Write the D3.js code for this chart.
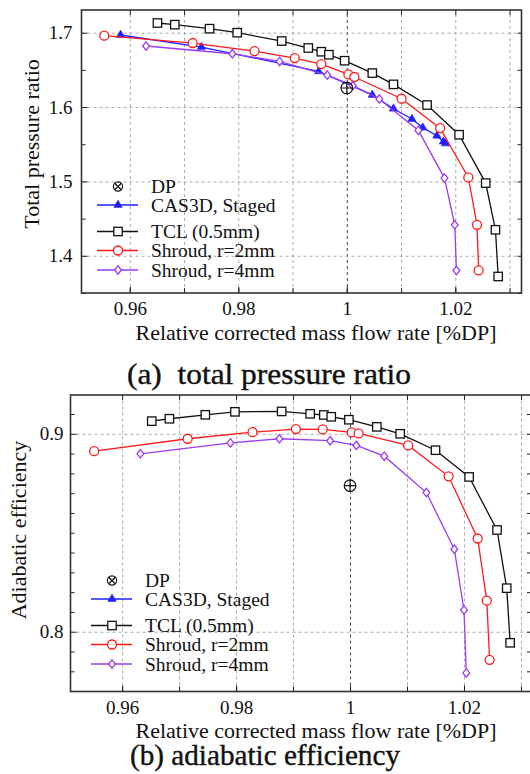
<!DOCTYPE html>
<html>
<head>
<meta charset="utf-8">
<script src="https://cdn.jsdelivr.net/npm/d3@7"></script>
<style>
  body { margin: 0; background: #fff; }
</style>
</head>
<body>
<div id="chart"></div>
<script>
// ---- data ----
const flowTicks = [0.96, 0.98, 1, 1.02];
const flowGrid = [0.96, 0.97, 0.98, 0.99, 1, 1.01, 1.02, 1.03];
const prTicks = [1.4, 1.5, 1.6, 1.7];
const prMinor = [1.35, 1.45, 1.55, 1.65];
const effTicks = [0.8, 0.9];
const effMinor = [0.78, 0.79, 0.81, 0.82, 0.83, 0.84, 0.85, 0.86, 0.87, 0.88, 0.89, 0.91];

// (a) total pressure ratio  [flow, PR]
const cas3dPR = [[0.9583, 1.6969], [0.9732, 1.6807], [0.9948, 1.648], [1.0047, 1.6163],
  [1.0086, 1.5978], [1.0120, 1.5839], [1.0140, 1.5724], [1.0166, 1.5614], [1.0178, 1.5535], [1.0182, 1.551]];
const tclPR = [[0.9651, 1.713], [0.9683, 1.7108], [0.9747, 1.7054], [0.9798, 1.700], [0.9880, 1.6888],
  [0.9929, 1.6794], [0.9953, 1.6744], [0.9967, 1.6704], [0.9996, 1.6623], [1.0047, 1.6457],
  [1.0086, 1.6305], [1.0148, 1.6027], [1.0207, 1.5628], [1.0256, 1.4978], [1.0274, 1.435], [1.0279, 1.3722]];
const shroud2PR = [[0.9553, 1.696], [0.9716, 1.6861], [0.9830, 1.6753], [0.9904, 1.6659], [0.9953, 1.6578],
  [1.0003, 1.6439], [1.0014, 1.6404], [1.0101, 1.6112], [1.0172, 1.5717], [1.0224, 1.5054],
  [1.0240, 1.4417], [1.0243, 1.3803]];
const shroud4PR = [[0.9630, 1.6821], [0.9789, 1.6717], [0.9876, 1.6614], [0.9964, 1.6430], [1.0011, 1.6287],
  [1.0060, 1.6108], [1.0132, 1.5686], [1.0180, 1.5045], [1.0199, 1.4417], [1.0202, 1.3803]];
const dpPR = [1.0, 1.6256];

// (b) adiabatic efficiency  [flow, eta]
const tclEff = [[0.9652, 0.9064], [0.9683, 0.9076], [0.9746, 0.9096], [0.9798, 0.9111], [0.9880, 0.9113],
  [0.9930, 0.9101], [0.9954, 0.9095], [0.9967, 0.9086], [0.9998, 0.9071], [1.0047, 0.9035],
  [1.0088, 0.9000], [1.0150, 0.8917], [1.0209, 0.8782], [1.0258, 0.8514], [1.0275, 0.8220], [1.0281, 0.7944]];
const shroud2Eff = [[0.9551, 0.8912], [0.9715, 0.8975], [0.9829, 0.9008], [0.9905, 0.9024], [0.9952, 0.9022],
  [1.0003, 0.9007], [1.0015, 0.9002], [1.0102, 0.8941], [1.0173, 0.8785], [1.0224, 0.8471],
  [1.0240, 0.8157], [1.0245, 0.7858]];
const shroud4Eff = [[0.9632, 0.8899], [0.9790, 0.8954], [0.9876, 0.8975], [0.9965, 0.8965], [1.0011, 0.8941],
  [1.0060, 0.8887], [1.0134, 0.8703], [1.0183, 0.8417], [1.0200, 0.8110], [1.0204, 0.7792]];
const dpEff = [1.0, 0.8738];

const legendLabels = ["DP", "CAS3D, Staged", "TCL (0.5mm)", "Shroud, r=2mm", "Shroud, r=4mm"];

// ---- styles ----
const COL = { cas: "#1f1fff", tcl: "#111111", s2: "#ff1a1a", s4: "#9b3bf2" };
const SERIF = "'Liberation Serif', 'Times New Roman', serif";

const svg = d3.select("#chart").append("svg")
  .attr("width", 530).attr("height", 774)
  .attr("font-family", SERIF);

function txt(g, size) {
  return g.append("text").style("font-family", SERIF).style("font-size", size).attr("fill", "#111");
}

function marker(g, kind, color, x, y) {
  if (kind === "square") {
    g.append("rect").attr("x", x - 4.2).attr("y", y - 4.2).attr("width", 8.4).attr("height", 8.4)
      .attr("fill", "#fff").attr("stroke", color).attr("stroke-width", 1.3);
  } else if (kind === "circle") {
    g.append("circle").attr("cx", x).attr("cy", y).attr("r", 4.5)
      .attr("fill", "#fff").attr("stroke", color).attr("stroke-width", 1.3);
  } else if (kind === "triangle") {
    g.append("path").attr("d", d3.symbol(d3.symbolTriangle, 28)())
      .attr("transform", `translate(${x},${y})`).attr("fill", color).attr("stroke", color).attr("stroke-width", 0.8);
  } else if (kind === "diamond") {
    g.append("path").attr("d", `M0,-4.2L3.4,0L0,4.2L-3.4,0Z`)
      .attr("transform", `translate(${x},${y})`).attr("fill", "#fff").attr("stroke", color).attr("stroke-width", 1.3);
  }
}

function dpMark(g, x, y, r, cross) {
  g.append("circle").attr("cx", x).attr("cy", y).attr("r", r)
    .attr("fill", "none").attr("stroke", "#111").attr("stroke-width", 1.2);
  const a = cross ? r * 0.7 : r;
  const p = cross ? `M${x - a},${y - a}L${x + a},${y + a}M${x - a},${y + a}L${x + a},${y - a}`
                  : `M${x - a},${y}L${x + a},${y}M${x},${y - a}L${x},${y + a}`;
  g.append("path").attr("d", p).attr("stroke", "#111").attr("stroke-width", 1.2);
}

function panel(cfg) {
  const { L, R, T, B } = cfg.box;
  const x = d3.scaleLinear().domain(cfg.xDomain).range([L, R]);
  const y = d3.scaleLinear().domain(cfg.yDomain).range([B, T]);
  const g = svg.append("g");
  const w = R - L, h = B - T;

  // grid
  const gx = g.append("g").attr("transform", `translate(0,${B})`)
    .call(d3.axisBottom(x).tickValues(flowGrid).tickSize(-h).tickFormat(""));
  gx.select(".domain").remove();
  gx.selectAll("line").attr("stroke", d => d === 1 ? "#444" : "#aaa").attr("stroke-dasharray", "3,3");
  const gy = g.append("g").attr("transform", `translate(${L},0)`)
    .call(d3.axisLeft(y).tickValues(cfg.yTicks).tickSize(-w).tickFormat(""));
  gy.select(".domain").remove();
  gy.selectAll("line").attr("stroke", "#aaa").attr("stroke-dasharray", "3,3");

  // series
  const line = d3.line().x(d => x(d[0])).y(d => y(d[1]));
  cfg.series.forEach(s => {
    g.append("path").datum(s.data).attr("d", line)
      .attr("fill", "none").attr("stroke", s.color).attr("stroke-width", 1.3);
    s.data.forEach(d => marker(g, s.kind, s.color, x(d[0]), y(d[1])));
  });
  dpMark(g, x(cfg.dp[0]), y(cfg.dp[1]), 5.8, false);

  // axes: inward ticks on all sides
  const fs = "19px";
  const ax = g.append("g").attr("transform", `translate(0,${B})`)
    .call(d3.axisBottom(x).tickValues(flowTicks).tickSize(-6).tickPadding(9).tickFormat(d => String(d)));
  ax.selectAll("text").style("font-size", fs).style("font-family", SERIF).attr("fill", "#111");
  const axm = g.append("g").attr("transform", `translate(0,${B})`)
    .call(d3.axisBottom(x).tickValues(flowGrid).tickSize(-5).tickFormat(""));
  const axt = g.append("g").attr("transform", `translate(0,${T})`)
    .call(d3.axisTop(x).tickValues(flowGrid).tickSize(-5).tickFormat(""));
  const ay = g.append("g").attr("transform", `translate(${L},0)`)
    .call(d3.axisLeft(y).tickValues(cfg.yTicks).tickSize(-6).tickPadding(cfg.yPad).tickFormat(d => String(d)));
  ay.selectAll("text").style("font-size", fs).style("font-family", SERIF).attr("fill", "#111");
  const aym = g.append("g").attr("transform", `translate(${L},0)`)
    .call(d3.axisLeft(y).tickValues(cfg.yMinor).tickSize(-4).tickFormat(""));
  const ayr = g.append("g").attr("transform", `translate(${R},0)`)
    .call(d3.axisRight(y).tickValues(cfg.yTicks.concat(cfg.yMinor)).tickSize(-4).tickFormat(""));
  [ax, axm, axt, ay, aym, ayr].forEach(a => {
    a.select(".domain").remove();
    a.selectAll("line").attr("stroke", "#222").attr("stroke-width", 1);
  });

  g.append("rect").attr("x", L).attr("y", T).attr("width", w).attr("height", h)
    .attr("fill", "none").attr("stroke", "#333").attr("stroke-width", 1.6);

  // titles
  txt(g, "22px").attr("x", 316).attr("y", cfg.xTitleY).attr("text-anchor", "middle")
    .text("Relative corrected mass flow rate [%DP]");
  txt(g, "22px").attr("transform", `translate(${cfg.yTitleX},${cfg.yTitleY}) rotate(-90)`)
    .attr("text-anchor", "middle").text(cfg.yTitle);
  txt(g, "30px").attr("x", cfg.capX).attr("y", cfg.capY)
    .attr("textLength", cfg.capW).attr("lengthAdjust", "spacingAndGlyphs")
    .style("white-space", "pre").attr("stroke", "#111").attr("stroke-width", 0.4).text(cfg.caption);

  // legend
  const lg = g.append("g");
  const lx = cfg.legend.x, ly = cfg.legend.y;
  const rows = [0, 18.5, 45, 64, 83.5];
  const kinds = [null, ["triangle", COL.cas], ["square", COL.tcl], ["circle", COL.s2], ["diamond", COL.s4]];
  rows.forEach((dy, i) => {
    const yy = ly + dy;
    if (i === 0) {
      dpMark(lg, lx + 21, yy, 4.6, true);
    } else {
      lg.append("line").attr("x1", lx).attr("x2", lx + 41).attr("y1", yy).attr("y2", yy)
        .attr("stroke", kinds[i][1]).attr("stroke-width", 1.3);
      marker(lg, kinds[i][0], kinds[i][1], lx + 21, yy);
    }
    txt(lg, "19.5px").attr("x", lx + 54).attr("y", yy).attr("dy", "0.35em").text(legendLabels[i]);
  });
}

panel({
  box: { L: 81.5, R: 521.5, T: 10, B: 293 },
  xDomain: [0.9511, 1.0322], yDomain: [1.35, 1.7305],
  yTicks: prTicks, yMinor: prMinor, yPad: 9,
  series: [
    { data: cas3dPR, color: COL.cas, kind: "triangle" },
    { data: tclPR, color: COL.tcl, kind: "square" },
    { data: shroud2PR, color: COL.s2, kind: "circle" },
    { data: shroud4PR, color: COL.s4, kind: "diamond" }
  ],
  dp: dpPR,
  xTitleY: 340, yTitle: "Total pressure ratio", yTitleX: 39, yTitleY: 144,
  caption: "(a)  total pressure ratio", capX: 127, capY: 384, capW: 284,
  legend: { x: 97, y: 186.5 }
});

panel({
  box: { L: 70.5, R: 531, T: 395, B: 691.5 },
  xDomain: [0.95094, 1.03176], yDomain: [0.7698, 0.9196],
  yTicks: effTicks, yMinor: effMinor, yPad: 7,
  series: [
    { data: tclEff, color: COL.tcl, kind: "square" },
    { data: shroud2Eff, color: COL.s2, kind: "circle" },
    { data: shroud4Eff, color: COL.s4, kind: "diamond" }
  ],
  dp: dpEff,
  xTitleY: 738, yTitle: "Adiabatic efficiency", yTitleX: 26, yTitleY: 530,
  caption: "(b) adiabatic efficiency", capX: 130, capY: 765, capW: 270,
  legend: { x: 91, y: 580.5 }
});
</script>
</body>
</html>
